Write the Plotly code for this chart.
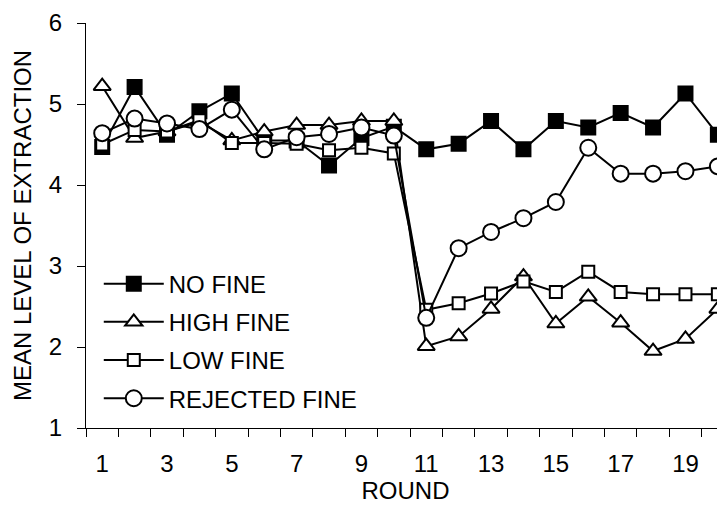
import plotly.graph_objects as go

rounds = list(range(1, 21))
no_fine = [4.47, 5.21, 4.62, 4.91, 5.13, 4.55, 4.55, 4.24, 4.58, 4.72,
           4.44, 4.51, 4.79, 4.44, 4.79, 4.71, 4.89, 4.71, 5.13, 4.62]
high_fine = [5.22, 4.58, 4.66, 4.78, 4.55, 4.66, 4.74, 4.74, 4.79, 4.79,
             2.01, 2.13, 2.47, 2.87, 2.29, 2.62, 2.30, 1.95, 2.10, 2.47]
low_fine = [4.50, 4.68, 4.66, 4.80, 4.52, 4.52, 4.51, 4.43, 4.46, 4.39,
            2.46, 2.54, 2.66, 2.81, 2.68, 2.93, 2.68, 2.65, 2.65, 2.65]
rejected_fine = [4.64, 4.82, 4.76, 4.69, 4.93, 4.44, 4.59, 4.63, 4.71, 4.61,
                 2.36, 3.22, 3.42, 3.59, 3.79, 4.46, 4.14, 4.14, 4.17, 4.23]
series_names = ["NO FINE", "HIGH FINE", "LOW FINE", "REJECTED FINE"]
x_tick_labels = [1, 3, 5, 7, 9, 11, 13, 15, 17, 19]
y_tick_labels = [1, 2, 3, 4, 5, 6]

FONT = "Liberation Sans, Arial, sans-serif"
FS = 24
styles = [
    dict(symbol="square", size=14, color="black"),
    dict(symbol="triangle-up", size=15, color="white"),
    dict(symbol="square", size=12, color="white"),
    dict(symbol="circle", size=16, color="white"),
]

fig = go.Figure()
for name, vals, st in zip(series_names, [no_fine, high_fine, low_fine, rejected_fine], styles):
    fig.add_trace(go.Scatter(
        x=rounds, y=vals, name=name, mode="lines+markers",
        legendgroup=name,
        line=dict(color="black", width=2),
        marker=dict(symbol=st["symbol"], size=st["size"], color=st["color"],
                    line=dict(color="black", width=2)),
        cliponaxis=False,
    ))

fig.update_layout(
    width=717, height=500,
    margin=dict(l=78, r=0, t=15, b=80),
    paper_bgcolor="white", plot_bgcolor="white",
    font=dict(family=FONT, size=FS, color="black"),
    showlegend=True,
    legend=dict(x=0.02, y=0.411, xanchor="left", yanchor="top",
                bgcolor="rgba(0,0,0,0)", font=dict(size=FS),
                itemwidth=60, tracegroupgap=4),
    xaxis=dict(
        range=[0.5, 20.22], showgrid=False, zeroline=False, automargin=False,
        showline=True, linecolor="black", linewidth=1,
        tickmode="array", tickvals=x_tick_labels,
        ticktext=[str(v) for v in x_tick_labels],
        ticks="", ticklabelstandoff=14,
        minor=dict(tickmode="linear", tick0=0.5, dtick=1, ticks="outside",
                   ticklen=8, tickcolor="black", tickwidth=1, showgrid=False),
        title=dict(text="ROUND", standoff=6, font=dict(size=FS)),
    ),
    yaxis=dict(
        range=[1, 6], showgrid=False, zeroline=False, automargin=False,
        showline=True, linecolor="black", linewidth=1,
        tickmode="array", tickvals=y_tick_labels,
        ticks="outside", ticklen=8, tickcolor="black", tickwidth=1,
        ticklabelstandoff=10,
        title=dict(text="MEAN LEVEL OF EXTRACTION", standoff=10, font=dict(size=FS)),
    ),
)

fig.write_html("out.html")
